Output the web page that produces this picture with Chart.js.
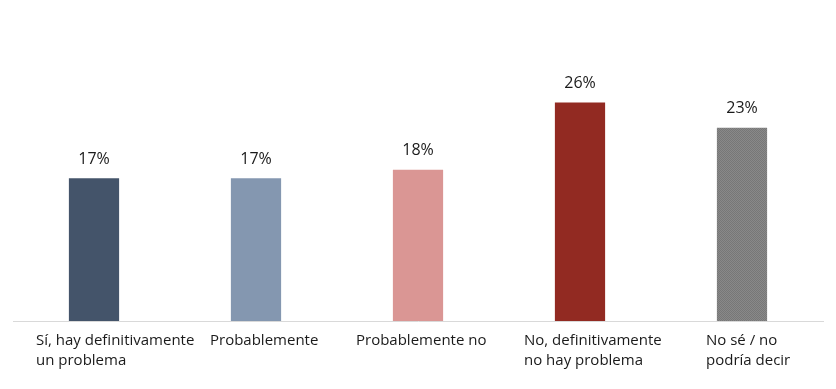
<!DOCTYPE html>
<html>
<head>
<meta charset="utf-8">
<script src="https://cdn.jsdelivr.net/npm/chart.js@4.4.0/dist/chart.umd.min.js"></script>
<style>
  html, body { margin: 0; padding: 0; background: #fff; }
  #wrap { width: 836px; height: 389px; }
</style>
</head>
<body>
<div id="wrap"><canvas id="grafico" width="836" height="389"></canvas></div>
<script>
const categorias = [
    ["Sí, hay definitivamente", "un problema"],
    ["Probablemente"],
    ["Probablemente no"],
    ["No, definitivamente", "no hay problema"],
    ["No sé / no", "podría decir"]
];
const valores = [17, 17, 18, 26, 23];
const etiquetas = ["17%", "17%", "18%", "26%", "23%"];

// desplazamiento del texto de cada categoria respecto al centro de la barra
const desplazamientos = [-58, -46, -62, -56, -36];
const fuente = "'Open Sans', 'Noto Sans', sans-serif";

function patronGris() {
    const c = document.createElement("canvas");
    c.width = 2;
    c.height = 2;
    const g = c.getContext("2d");
    g.fillStyle = "#898989";
    g.fillRect(0, 0, 2, 2);
    g.fillStyle = "#777777";
    g.fillRect(0, 0, 1, 1);
    g.fillRect(1, 1, 1, 1);
    return g.createPattern(c, "repeat");
}

const colores = ["#44546a", "#8497b0", "#da9694", "#922a22", patronGris()];

const textos = {
    id: "textos",
    afterDraw(chart) {
        const ctx = chart.ctx;
        const escalaX = chart.scales.x;
        const meta = chart.getDatasetMeta(0);
        ctx.save();
        ctx.fillStyle = "#1a1a1a";

        // valores sobre las barras
        ctx.font = "16px " + fuente;
        ctx.textAlign = "center";
        ctx.textBaseline = "middle";
        meta.data.forEach((barra, i) => {
            ctx.fillText(etiquetas[i], barra.x, barra.y - 19);
        });

        // etiquetas de categoria
        ctx.font = "15px " + fuente;
        ctx.textAlign = "left";
        categorias.forEach((lineas, i) => {
            const x = escalaX.getPixelForValue(i) + desplazamientos[i];
            lineas.forEach((linea, j) => {
                ctx.fillText(linea, x, chart.chartArea.bottom + 20 + j * 20);
            });
        });
        ctx.restore();
    }
};

new Chart(document.getElementById("grafico"), {
    type: "bar",
    data: {
        labels: categorias.map((c) => c.join(" ")),
        datasets: [{
            data: valores,
            backgroundColor: colores,
            borderWidth: 0,
            barPercentage: 0.31,
            categoryPercentage: 1
        }]
    },
    options: {
        responsive: false,
        animation: false,
        layout: { padding: { left: 13, right: 13, top: 69, bottom: 60 } },
        plugins: {
            legend: { display: false },
            tooltip: { enabled: false }
        },
        scales: {
            x: {
                grid: { display: false },
                ticks: { display: false },
                border: { display: true, color: "#d9d9d9", width: 1 }
            },
            y: {
                display: false,
                min: 0,
                max: 30
            }
        }
    },
    plugins: [textos]
});
</script>
</body>
</html>
